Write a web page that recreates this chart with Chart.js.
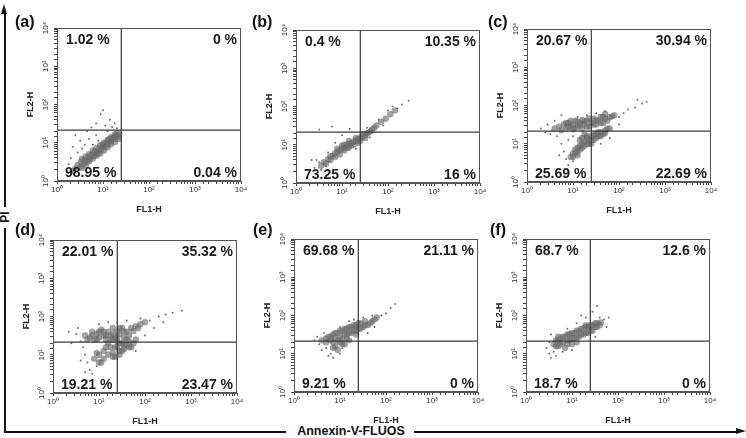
<!DOCTYPE html>
<html><head><meta charset="utf-8">
<script src="https://cdn.jsdelivr.net/npm/chart.js@4.4.1/dist/chart.umd.min.js"></script>
<style>
html,body{margin:0;padding:0;background:#fff;}
body{width:746px;height:438px;position:relative;overflow:hidden;font-family:"Liberation Sans",Arial,Helvetica,sans-serif;}
canvas.p{position:absolute;}
.lbl{position:absolute;font-weight:bold;font-size:16px;line-height:16px;color:#111;white-space:nowrap;}
.ln{position:absolute;background:#111;}
.big{position:absolute;font-weight:bold;color:#111;white-space:nowrap;line-height:1;}
</style></head><body>
<div class="ln" style="left:4px;top:12px;width:1.5px;height:195px;"></div>
<div class="ln" style="left:4px;top:228px;width:1.5px;height:205px;"></div>
<div style="position:absolute;left:1px;top:4px;width:0;height:0;border-left:3.8px solid transparent;border-right:3.8px solid transparent;border-bottom:10px solid #111;"></div>
<div class="big" id="piLbl" style="font-size:12px;left:-3px;top:211px;transform:rotate(-90deg);transform-origin:50% 50%;width:16px;text-align:center;"></div>
<div class="ln" style="left:4px;top:431px;width:282px;height:1.5px;"></div>
<div class="ln" style="left:414px;top:431px;width:324px;height:1.5px;"></div>
<div style="position:absolute;left:736px;top:428px;width:0;height:0;border-top:3.8px solid transparent;border-bottom:3.8px solid transparent;border-left:10px solid #111;"></div>
<div class="big" id="annLbl" style="font-size:12.5px;left:291px;top:425px;width:120px;text-align:center;"></div>
<script>
// ---------- text ----------
const panelLabels = ['(a)', '(b)', '(c)', '(d)', '(e)', '(f)'];
const tickLabels = ['10\u2070', '10\u00b9', '10\u00b2', '10\u00b3', '10\u2074'];
const tickValues = [1, 10, 100, 1000, 10000];
const xTitle = 'FL1-H';
const yTitle = 'FL2-H';
const outerYTitle = 'PI';
const outerXTitle = 'Annexin-V-FLUOS';
// ---------- quadrant gates ----------
const gateX = [25, 25, 25, 25, 25, 25];
const gateY = [21.5, 21.5, 21.5, 21.5, 21.5, 21.5];
// ---------- quadrant percentages ----------
const pctUL = ['1.02 %', '0.4 %', '20.67 %', '22.01 %', '69.68 %', '68.7 %'];
const pctUR = ['0 %', '10.35 %', '30.94 %', '35.32 %', '21.11 %', '12.6 %'];
const pctLL = ['98.95 %', '73.25 %', '25.69 %', '19.21 %', '9.21 %', '18.7 %'];
const pctLR = ['0.04 %', '16 %', '22.69 %', '23.47 %', '0 %', '0 %'];
// ---------- events (FL1-H, FL2-H) ----------
const coreA = [[2.8,2.6],[3.2,2.4],[3.3,3.2],[3.8,2.8],[4.0,3.5],[4.5,3.2],[4.8,4.2],[5.2,3.8],[5.6,4.8],[6.3,4.5],[6.6,5.8],[7.6,5.2],[7.9,6.6],[8.9,6.3],[9.5,7.9],[10.5,7.6],[11.2,9.5],[12.6,8.9],[13.2,11.2],[14.8,10.7],[15.8,13.2],[17.8,12.6],[19,15.1],[21,14.1],[22.4,16.6],[5,3.3],[7.1,5],[10,8.9],[14.1,12.6],
  [3.5,2.2],[3.5,3.8],[4.2,2.6],[4.2,4.4],[5,5],[6,3.8],[6,6.3],[7.2,4.6],[7.2,7.2],[8.7,5.2],[8.7,8.7],[10.5,6.3],[10.5,10],[12.6,12],[12.6,7.6],[15.1,9.1],[15.1,14.1],[18.2,16.6],[18.2,10.5],[21.9,12.6],[20,17.8],[2.2,1.8],[2.5,2.1]];
const sparseA = [[7.1,32],[8.9,56],[11.2,28],[14.1,40],[17.8,32],[10,71],[5.6,25],[4.5,20],[2.5,15.8],[3.2,11.2],[2.2,7.9],[2.8,5.6],[2,4],[3.5,7.1],[5,12.6],[7.1,15.8],[15.8,26],[4,8.9],[1.8,2.8],[12.6,20],[7.9,11.2],[2.4,2],[20,24],[6,8.9]];
const coreB = [[4,3.5],[5,4.2],[5.6,5],[6.3,5.2],[7.1,6],[7.9,6.6],[8.9,7.1],[10,7.9],[10,9.5],[11.2,8.3],[12.6,10],[12.6,8.3],[14.1,10.5],[15.8,11.2],[15.8,9.5],[17.8,12],[20,12.6],[22.4,14.1],[25,15.1],[28,15.8],[32,17.8],[38,21],[45,25],[56,32],[71,40],[89,48],[112,63],[141,79],
  [4.5,3.2],[5.6,4],[7.1,4.8],[7.9,7.9],[8.9,5.6],[11.2,10],[11.2,7.1],[14.1,8.3],[14.1,12.6],[17.8,10],[20,15.1],[22.4,11.2],[25,12.6],[28,19],[32,15.1],[35,20],[42,22.4],[50,28],[3.5,2.8]];
const sparseB = [[2.5,2.5],[3.2,3.5],[3.5,2.2],[2.8,4],[4.5,2.8],[5,6.3],[3.2,25],[6,30],[14.8,26],[10,17.8],[7.1,11.2],[20,7.9],[40,15.8],[63,45],[100,79],[158,89],[200,112],[282,141],[126,100],[79,32],[2.2,4],[35,28]];
const coreC = [[5,28],[6.3,32],[7.1,25],[7.9,35],[8.9,28],[10,32],[11.2,40],[12.6,28],[14.1,35],[15.8,25],[17.8,32],[20,40],[22.4,28],[25,35],[28,45],[32,32],[35,40],[40,50],[45,35],[50,45],[63,50],[79,56],[10,24],[15.8,42],
  [8.9,4.5],[10,5.6],[11.2,7.1],[12.6,6.3],[14.1,8.9],[15.8,7.9],[17.8,11.2],[20,10],[20,14.1],[22.4,12.6],[25,15.8],[28,12.6],[32,17.8],[35,15.8],[40,20],[45,17.8],[50,22.4],[63,25],[15.8,14.1],[25,10],
  [5.6,22.4],[7.1,35],[7.9,28],[8.9,40],[11.2,26],[12.6,38],[14.1,30],[17.8,38],[20,28],[22.4,45],[28,32],[32,42],[40,35],[45,50],[56,40],[71,52],[50,60],[4,25],
  [10,4.5],[11.2,5.6],[12.6,7.9],[14.1,7.1],[15.8,10],[17.8,8.9],[20,15.8],[22.4,10],[25,12.6],[28,17.8],[32,14.1],[35,20],[40,15.8],[50,19],[56,25],[17.8,17.8],[14.1,12.6],[12.6,5]];
const sparseC = [[2,25],[2.8,32],[3.5,22.4],[4,40],[3.2,17.8],[4.5,15.8],[5.6,10],[6.3,6.3],[7.1,4],[5,5],[7.9,2.8],[10,3.5],[7.9,12.6],[10,15.8],[12.6,50],[20,56],[32,63],[50,71],[100,50],[126,63],[158,79],[224,89],[316,112],[398,126],[100,32],[63,14.1],[40,10],[2.5,20],[5.6,56],[251,141]];
const coreD = [[5,32],[6.3,28],[7.1,40],[7.9,25],[8.9,35],[10,28],[11.2,45],[12.6,32],[14.1,25],[15.8,40],[17.8,32],[20,50],[22.4,28],[25,40],[28,35],[32,50],[35,28],[40,40],[50,50],[63,56],[79,63],[100,71],
  [7.9,7.9],[10,10],[11.2,6.3],[12.6,12.6],[15.8,10],[17.8,15.8],[20,11.2],[22.4,8.9],[25,15.8],[28,12.6],[32,20],[35,14.1],[40,17.8],[45,22.4],[50,15.8],[63,25],[25,22.4],[15.8,20],
  [5.6,25],[7.1,32],[8.9,25],[10,40],[12.6,40],[14.1,32],[17.8,25],[20,35],[25,28],[28,50],[35,40],[45,32],[56,42],[71,50],[20,25],
  [20,8.9],[22.4,15.8],[28,20],[32,12.6],[35,17.8],[40,25],[45,15.8],[56,20],[28,10],[12.6,7.9],[10,6.3],[8.9,11.2],[14.1,15.8]];
const sparseD = [[2.2,40],[3.2,35],[4,22.4],[3.5,50],[4.5,15.8],[5,10],[5.6,6.3],[6.3,4],[7.1,3.2],[5,3.5],[8.9,5],[4,7.1],[10,63],[15.8,71],[25,71],[40,79],[79,89],[126,79],[200,100],[282,112],[398,126],[631,141],[158,50],[100,32],[63,12.6],[251,71],[2.5,20]];
const coreE = [[4,22.4],[5,20],[5.6,28],[6.3,22.4],[7.1,32],[7.9,25],[8.9,35],[10,28],[10,20],[11.2,40],[12.6,32],[14.1,25],[14.1,45],[15.8,35],[17.8,50],[20,40],[22.4,32],[22.4,56],[25,45],[28,63],[32,50],[35,71],[40,56],[50,71],[63,89],[7.9,15.8],[12.6,17.8],[8.9,12.6],
  [5,25],[6.3,28],[7.1,20],[7.9,35],[8.9,22.4],[10,40],[11.2,25],[12.6,45],[14.1,32],[15.8,50],[17.8,35],[20,56],[22.4,40],[25,63],[28,45],[35,56],[45,63],[56,79],[11.2,17.8],[7.1,14.1],[15.8,22.4]];
const sparseE = [[2.8,22.4],[3.5,17.8],[3.2,28],[4.5,35],[5,14.1],[6.3,10],[7.1,7.9],[5.6,8.9],[10,10],[11.2,14.1],[15.8,71],[20,79],[10,50],[40,35],[56,50],[79,100],[100,112],[126,158],[158,200],[50,100],[32,89],[4,12.6]];
const coreF = [[4,17.8],[4.5,22.4],[5,15.8],[5.6,25],[6.3,20],[7.1,28],[7.9,22.4],[8.9,32],[10,25],[11.2,35],[12.6,28],[14.1,40],[15.8,32],[17.8,45],[20,35],[22.4,50],[25,40],[28,56],[32,50],[35,63],[40,56],[5,28],[10,17.8],[20,56],[7.1,14.1],
  [4.5,15.8],[5,22.4],[5.6,17.8],[6.3,28],[7.9,32],[8.9,22.4],[10,35],[11.2,25],[12.6,40],[14.1,28],[15.8,45],[17.8,32],[20,50],[22.4,35],[25,56],[28,40],[32,63],[35,50],[42,66],[7.9,17.8],[12.6,20]];
const sparseF = [[2.8,14.1],[3.2,10],[3.5,7.9],[3.2,20],[4,11.2],[4.5,8.9],[6.3,11.2],[10,12.6],[7.9,45],[12.6,63],[20,89],[28,126],[35,178],[40,89],[50,79],[63,89],[56,50],[32,28],[3.5,32],[15.8,100]];

const coreSets = [coreA, coreB, coreC, coreD, coreE, coreF];
const sparseSets = [sparseA, sparseB, sparseC, sparseD, sparseE, sparseF];

// ---------- layout (pixel positions of each plot box & panel letter) ----------
const layout = [
  {px: 57, py: 28, lx: 15, ly: 14},
  {px: 296, py: 30, lx: 252, ly: 14},
  {px: 527, py: 29, lx: 488, ly: 14},
  {px: 53, py: 240, lx: 15, ly: 222},
  {px: 294, py: 239, lx: 253, ly: 222},
  {px: 526, py: 239, lx: 490, ly: 222}
];
const PW = 184, PH = 153, PADL = 4, PADT = 12, PADR = 12, YW = 36, XH = 40;

document.getElementById('piLbl').textContent = outerYTitle;
document.getElementById('annLbl').textContent = outerXTitle;

const FONT = '"Liberation Sans", Arial, Helvetica, sans-serif';

function tickCb(v) {
  const i = tickValues.findIndex(t => Math.abs(t - v) < 1e-6 * t);
  return i >= 0 ? tickLabels[i] : '';
}

const boxAndText = {
  id: 'boxAndText',
  afterDatasetsDraw(chart, args, opts) {
    const {ctx, chartArea: a} = chart;
    const i = opts.index;
    ctx.save();
    ctx.strokeStyle = '#555';
    ctx.lineWidth = 1;
    ctx.strokeRect(a.left + 0.5, a.top + 0.5, a.right - a.left - 1, a.bottom - a.top - 1);
    ctx.fillStyle = '#1a1a1a';
    ctx.font = 'bold 14px ' + FONT;
    ctx.textBaseline = 'alphabetic';
    ctx.textAlign = 'left';
    ctx.fillText(pctUL[i], a.left + 9, a.top + 16);
    ctx.fillText(pctLL[i], a.left + 8, a.bottom - 4);
    ctx.textAlign = 'right';
    ctx.fillText(pctUR[i], a.right - 4, a.top + 16);
    ctx.fillText(pctLR[i], a.right - 4, a.bottom - 4);
    ctx.restore();
  }
};

function makePanel(i) {
  const L = layout[i];
  const cv = document.createElement('canvas');
  cv.className = 'p';
  const W = PW + YW + PADL + PADR, H = PH + PADT + XH;
  cv.width = W; cv.height = H;
  cv.style.left = (L.px - YW - PADL) + 'px';
  cv.style.top = (L.py - PADT) + 'px';
  cv.style.width = W + 'px'; cv.style.height = H + 'px';
  document.body.appendChild(cv);

  const lab = document.createElement('div');
  lab.className = 'lbl';
  lab.textContent = panelLabels[i];
  lab.style.left = L.lx + 'px';
  lab.style.top = L.ly + 'px';
  document.body.appendChild(lab);

  const gateStyle = {type: 'line', borderColor: '#3a3a3a', borderWidth: 1.2, pointRadius: 0, showLine: true, fill: false};
  new Chart(cv, {
    type: 'scatter',
    data: {
      datasets: [
        Object.assign({data: [{x: gateX[i], y: 1}, {x: gateX[i], y: 10000}]}, gateStyle),
        Object.assign({data: [{x: 1, y: gateY[i]}, {x: 10000, y: gateY[i]}]}, gateStyle),
        {data: coreSets[i].map(p => ({x: p[0], y: p[1]})), pointRadius: 3.2, pointBorderWidth: 0, backgroundColor: 'rgba(105,105,105,0.62)', borderColor: 'rgba(0,0,0,0)'},
        {data: sparseSets[i].map(p => ({x: p[0], y: p[1]})), pointRadius: 1, pointBorderWidth: 0, backgroundColor: '#707070', borderColor: 'rgba(0,0,0,0)'}
      ]
    },
    options: {
      responsive: false,
      animation: false,
      events: [],
      layout: {padding: {left: PADL, top: PADT, right: PADR, bottom: 0}},
      plugins: {legend: {display: false}, tooltip: {enabled: false}, boxAndText: {index: i}},
      scales: {
        x: {
          type: 'logarithmic', min: 1, max: 10000,
          afterFit: s => { s.height = XH; },
          border: {display: true, color: '#555', width: 1},
          grid: {drawOnChartArea: false, drawTicks: true, tickLength: 3, color: '#444'},
          ticks: {autoSkip: false, maxRotation: 0, minRotation: 0, padding: 1, color: '#333', font: {size: 8, family: FONT}, callback: tickCb},
          title: {display: true, text: xTitle, color: '#222', font: {size: 9, weight: 'bold', family: FONT}, padding: {top: 2, bottom: 6}}
        },
        y: {
          type: 'logarithmic', min: 1, max: 10000,
          afterFit: s => { s.width = YW; },
          border: {display: true, color: '#555', width: 1},
          grid: {drawOnChartArea: false, drawTicks: true, tickLength: 3, color: '#444'},
          ticks: {autoSkip: false, minRotation: 90, maxRotation: 90, crossAlign: 'center', padding: 2, color: '#333', font: {size: 8, family: FONT}, callback: tickCb},
          title: {display: true, text: yTitle, color: '#222', font: {size: 9, weight: 'bold', family: FONT}, padding: {top: 4, bottom: 2}}
        }
      }
    },
    plugins: [boxAndText]
  });
}
for (let i = 0; i < 6; i++) makePanel(i);
</script>
</body></html>
